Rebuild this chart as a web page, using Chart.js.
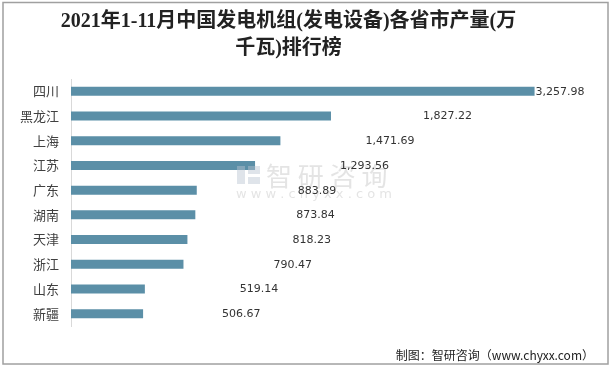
<!DOCTYPE html>
<html>
<head>
<meta charset="utf-8">
<script src="https://cdn.jsdelivr.net/npm/chart.js@4.4.0/dist/chart.umd.min.js"></script>
<style>
  html, body { margin: 0; padding: 0; background: #fff; }
  #wrap { width: 613px; height: 367px; }
</style>
</head>
<body>
<div id="wrap"><canvas id="chart" width="613" height="367"></canvas></div>
<script>
// data
var provinces = ['四川', '黑龙江', '上海', '江苏', '广东', '湖南', '天津', '浙江', '山东', '新疆'];
var output = [3257.98, 1827.22, 1471.69, 1293.56, 883.89, 873.84, 818.23, 790.47, 519.14, 506.67];
var titleLines = ['2021年1-11月中国发电机组(发电设备)各省市产量(万', '千瓦)排行榜'];
var sourceText = '制图：智研咨询（www.chyxx.com）';

// label offsets (px) to the right of each bar end, as in the picture
var labelShift = [1, 92, 85, 85, 101, 101, 105, 90, 95, 79];

// frame, watermark and footer
var decoPlugin = {
    id: 'deco',
    beforeDraw: function(chart) {
        var ctx = chart.ctx;
        ctx.save();
        ctx.fillStyle = '#fff';
        ctx.fillRect(0, 0, chart.width, chart.height);
        ctx.strokeStyle = '#a0a0a0';
        ctx.lineWidth = 1.5;
        ctx.strokeRect(3, 2.5, 605, 361.5);
        ctx.restore();
    },
    afterDatasetsDraw: function(chart) {
        var ctx = chart.ctx;
        ctx.save();
        // faint watermark
        ctx.globalAlpha = 0.45;
        ctx.fillStyle = '#b8c4d0';
        ctx.fillRect(237, 166, 8, 18);
        ctx.fillRect(248, 166, 12, 8);
        ctx.fillRect(248, 177, 12, 7);
        ctx.fillStyle = '#c4c4c4';
        ctx.font = '26px "Noto Sans CJK SC"';
        ctx.textBaseline = 'middle';
        ctx.textAlign = 'left';
        ctx.fillText('智 研 咨 询', 266, 176);
        ctx.font = '13px "DejaVu Sans"';
        ctx.fillText('w w w . c h y x x . c o m', 236, 195);
        ctx.restore();

        // value labels
        ctx.save();
        ctx.font = '11px "DejaVu Sans"';
        ctx.fillStyle = '#333';
        ctx.textAlign = 'left';
        ctx.textBaseline = 'middle';
        var meta = chart.getDatasetMeta(0);
        meta.data.forEach(function(bar, i) {
            var txt = output[i].toLocaleString('en-US', {minimumFractionDigits: 2, maximumFractionDigits: 2});
            ctx.fillText(txt, bar.x + labelShift[i], bar.y + 0.5);
        });

        // source note
        ctx.font = '12px "Noto Sans CJK SC"';
        ctx.fillStyle = '#222';
        ctx.textAlign = 'right';
        ctx.fillText(sourceText, 594, 355);
        ctx.restore();
    }
};

var ctx = document.getElementById('chart').getContext('2d');
var chart = new Chart(ctx, {
    type: 'bar',
    data: {
        labels: provinces,
        datasets: [{
            data: output,
            backgroundColor: '#5b8fa7',
            borderWidth: 0,
            barPercentage: 0.73,
            categoryPercentage: 0.5
        }]
    },
    options: {
        indexAxis: 'y',
        responsive: false,
        animation: false,
        layout: { padding: { left: 8, right: 44, top: 0, bottom: 41 } },
        plugins: {
            legend: { display: false },
            tooltip: { enabled: false },
            title: {
                display: true,
                text: titleLines,
                color: '#222',
                font: { family: '"Liberation Serif", "Noto Sans CJK SC"', size: 20, weight: 'bold', lineHeight: 1.35 },
                padding: { top: 8, bottom: 17 }
            }
        },
        scales: {
            x: {
                display: false,
                min: 0,
                max: 3500
            },
            y: {
                grid: { display: false, drawTicks: false },
                border: { display: true, color: '#d9d9d9', width: 1 },
                ticks: {
                    color: '#404040',
                    padding: 12,
                    font: { family: '"Noto Sans CJK SC"', size: 13 }
                }
            }
        }
    },
    plugins: [decoPlugin]
});
</script>
</body>
</html>
